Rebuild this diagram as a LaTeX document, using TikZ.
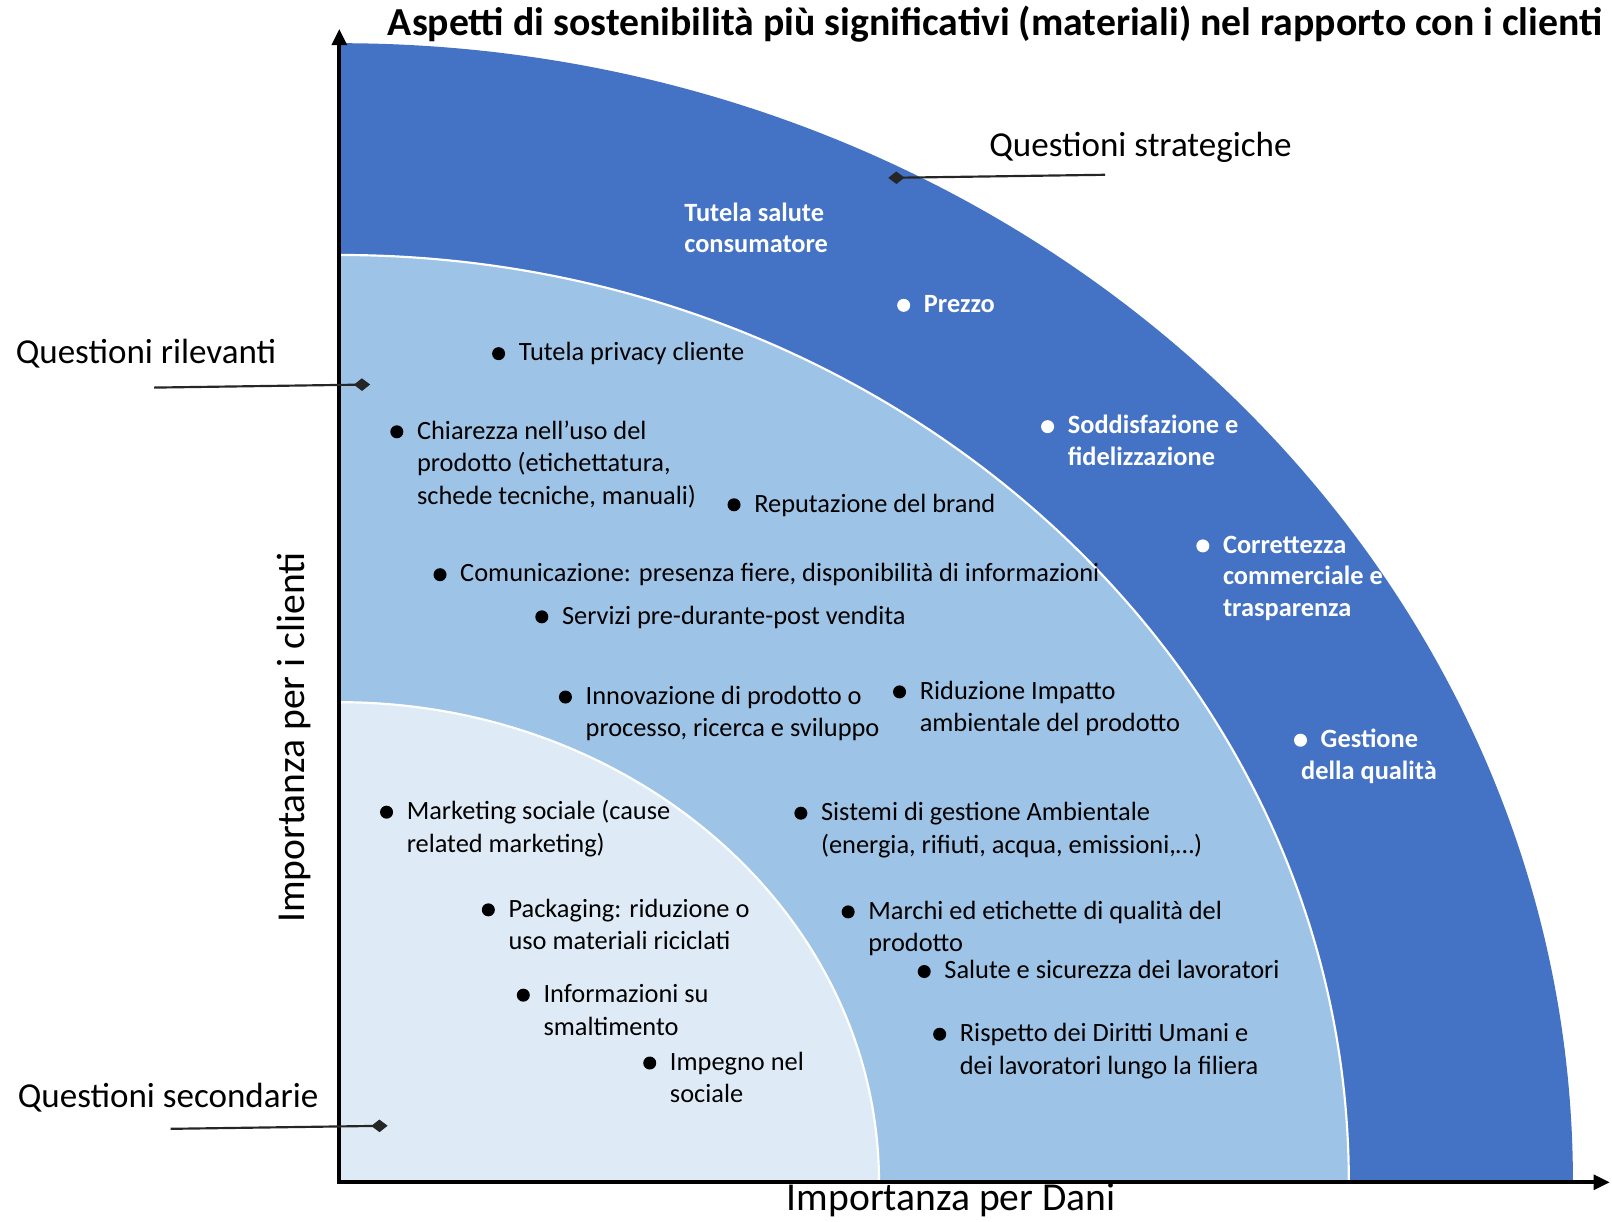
\documentclass[tikz,border=0pt]{standalone}
\usepackage{fontspec}
\setmainfont{Carlito}
\usetikzlibrary{arrows.meta}
\definecolor{strategic}{HTML}{4472C4}
\definecolor{relevant}{HTML}{9DC3E6}
\definecolor{secondary}{HTML}{DEEBF7}
% lines of an item, baseline on the first line
\newcommand{\righe}[1]{\begin{tabular}[t]{@{}l@{}}#1\end{tabular}}
\tikzset{
  item/.style={anchor=base west, xshift=11pt, yshift=-4pt, inner sep=0pt,
    font=\fontsize{14.6}{18.1}\selectfont},
  keyitem/.style={item, text=white, font=\bfseries\fontsize{14.6}{17.6}\selectfont},
  callout/.style={anchor=base west, inner sep=0pt, font=\fontsize{19.4}{23}\selectfont},
  leader/.style={draw=black!85, line width=1.2pt, -{Diamond[length=9pt,width=7pt]}},
  axis/.style={line width=2.3pt, -{Triangle[length=9pt,width=8pt]}},
}
\begin{document}
\begin{tikzpicture}[x=0.02cm, y=-0.02cm]
  \useasboundingbox (0,0) rectangle (1568,1188);
  \coordinate (origin) at (330,1150);
  % the three bands
  \begin{scope}
    \clip (330,1150) rectangle (1568,0);
    \fill[strategic] (origin) ellipse [x radius=1200, y radius=1108];
    \filldraw[fill=relevant, draw=white, line width=1.2pt] (origin) ellipse [x radius=982, y radius=902];
    \filldraw[fill=secondary, draw=white, line width=1.2pt] (origin) ellipse [x radius=525, y radius=467];
  \end{scope}
  % axes
  \draw[axis] (origin) -- (330,28);
  \draw[axis] ([xshift=-1.1pt]origin) -- (1566,1150);
  \node[anchor=base west, inner sep=0pt, font=\bfseries\fontsize{22}{26}\selectfont] (title) at (377,35)
    {Aspetti di sostenibilità più significativi (materiali) nel rapporto con i clienti};
  \node[anchor=base west, inner sep=0pt, font=\fontsize{21.9}{26}\selectfont] (xlabel) at (765,1177) {Importanza per Dani};
  \node[anchor=base west, inner sep=0pt, rotate=90, font=\fontsize{21.9}{26}\selectfont] (ylabel) at (296,898) {Importanza per i clienti};

  % callouts
  \node[callout] (strategiche) at (962,152) {Questioni strategiche};
  \coordinate (strategiche-a) at (1075,170);
  \coordinate (strategiche-b) at (864,173);
  \draw[leader] (strategiche-a) -- (strategiche-b);
  \node[callout] (rilevanti) at (15,354) {Questioni rilevanti};
  \coordinate (rilevanti-a) at (150,377);
  \coordinate (rilevanti-b) at (360,374);
  \draw[leader] (rilevanti-a) -- (rilevanti-b);
  \node[callout] (secondarie) at (17,1077) {Questioni secondarie};
  \coordinate (secondarie-a) at (166,1098);
  \coordinate (secondarie-b) at (377,1095);
  \draw[leader] (secondarie-a) -- (secondarie-b);

  % strategic issues
  \node[keyitem] (salute) at (646,208) {\righe{Tutela salute\\consumatore}};
  \fill[white] (879,297) circle (3.6pt) node[keyitem] (prezzo) {Prezzo};
  \fill[white] (1019,415) circle (3.6pt) node[keyitem] (soddisfazione) {\righe{Soddisfazione e\\fidelizzazione}};
  \fill[white] (1170,531) circle (3.6pt) node[keyitem] (correttezza) {\righe{Correttezza\\commerciale e\\trasparenza}};
  \fill[white] (1265,720) circle (3.6pt) node[keyitem] (qualita) {\righe{Gestione\\\hspace*{-10.8pt}della qualità}};

  % relevant issues
  \fill (485,344) circle (3.6pt) node[item] (privacy) {Tutela privacy cliente};
  \fill (386,420) circle (3.6pt) node[item] (chiarezza) {\righe{Chiarezza nell'uso del\\prodotto (etichettatura,\\schede tecniche, manuali)}};
  \fill (714,491) circle (3.6pt) node[item] (reputazione) {Reputazione del brand};
  \fill (428,559) circle (3.6pt) node[item] (comunicazione) {Comunicazione: presenza fiere, disponibilità di informazioni};
  \fill (527,600) circle (3.6pt) node[item] (servizi) {Servizi pre-durante-post vendita};
  \fill (550,678) circle (3.6pt) node[item] (innovazione) {\righe{Innovazione di prodotto o\\processo, ricerca e sviluppo}};
  \fill (875,673) circle (3.6pt) node[item] (impatto) {\righe{Riduzione Impatto\\ambientale del prodotto}};
  \fill (779,791) circle (3.6pt) node[item] (ambiente) {\righe{Sistemi di gestione Ambientale\\(energia, rifiuti, acqua, emissioni,…)}};
  \fill (825,887) circle (3.6pt) node[item] (marchi) {\righe{Marchi ed etichette di qualità del\\prodotto}};
  \fill (899,945) circle (3.6pt) node[item] (sicurezza) {Salute e sicurezza dei lavoratori};
  \fill (914,1006) circle (3.6pt) node[item] (diritti) {\righe{Rispetto dei Diritti Umani e\\dei lavoratori lungo la filiera}};

  % secondary issues
  \fill (376,790) circle (3.6pt) node[item] (marketing) {\righe{Marketing sociale (cause\\related marketing)}};
  \fill (475,885) circle (3.6pt) node[item] (packaging) {\righe{Packaging: riduzione o\\uso materiali riciclati}};
  \fill (509,968) circle (3.6pt) node[item] (smaltimento) {\righe{Informazioni su\\smaltimento}};
  \fill (632,1034) circle (3.6pt) node[item] (sociale) {\righe{Impegno nel\\sociale}};
\end{tikzpicture}
\end{document}
